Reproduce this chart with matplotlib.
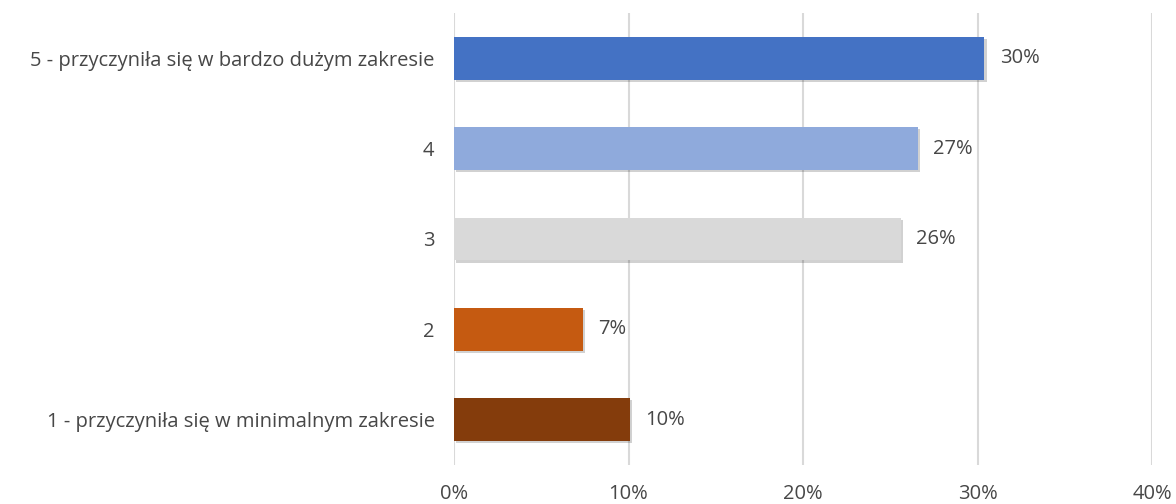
import matplotlib.pyplot as plt
import matplotlib.patheffects as pe
from matplotlib.ticker import FuncFormatter

plt.rcParams["font.family"] = ["Open Sans", "DejaVu Sans"]

categories = [
    "5 - przyczyniła się w bardzo dużym zakresie",
    "4",
    "3",
    "2",
    "1 - przyczyniła się w minimalnym zakresie",
]
values = [30.4, 26.6, 25.6, 7.4, 10.1]
labels = ["30%", "27%", "26%", "7%", "10%"]
colors = ["#4472C4", "#8FAADC", "#D9D9D9", "#C55A11", "#843C0C"]
ticks = [0, 10, 20, 30, 40]

text_color = "#474747"
fs = 14.5

fig = plt.figure(figsize=(11.76, 5.04), dpi=100)
ax = fig.add_axes([454 / 1176, 39 / 504, 698 / 1176, 452 / 504])

pos = list(range(len(categories)))
bars = ax.barh(pos, values, height=0.475, color=colors, zorder=3)
for bar in bars:
    bar.set_path_effects([
        pe.SimplePatchShadow(offset=(1.5, -1.5), shadow_rgbFace="black", alpha=0.18),
        pe.Normal(),
    ])

for p, v, lab in zip(pos, values, labels):
    ax.annotate(lab, (v, p), xytext=(11, 0), textcoords="offset points",
                va="center", ha="left", fontsize=fs, color=text_color)

ax.set_xlim(0, 40)
ax.set_ylim(len(categories) - 0.5, -0.5)
ax.set_yticks(pos)
ax.set_yticklabels(categories)
ax.set_xticks(ticks)
ax.xaxis.set_major_formatter(FuncFormatter(lambda x, _: f"{x:.0f}%"))
ax.tick_params(axis="both", length=0, labelsize=fs, labelcolor=text_color)
ax.tick_params(axis="x", pad=14)
ax.tick_params(axis="y", pad=14)

ax.grid(axis="x", color="#D9D9D9", linewidth=1.5, zorder=0)
for s in ax.spines.values():
    s.set_visible(False)

fig.savefig("out.png", dpi=100)
